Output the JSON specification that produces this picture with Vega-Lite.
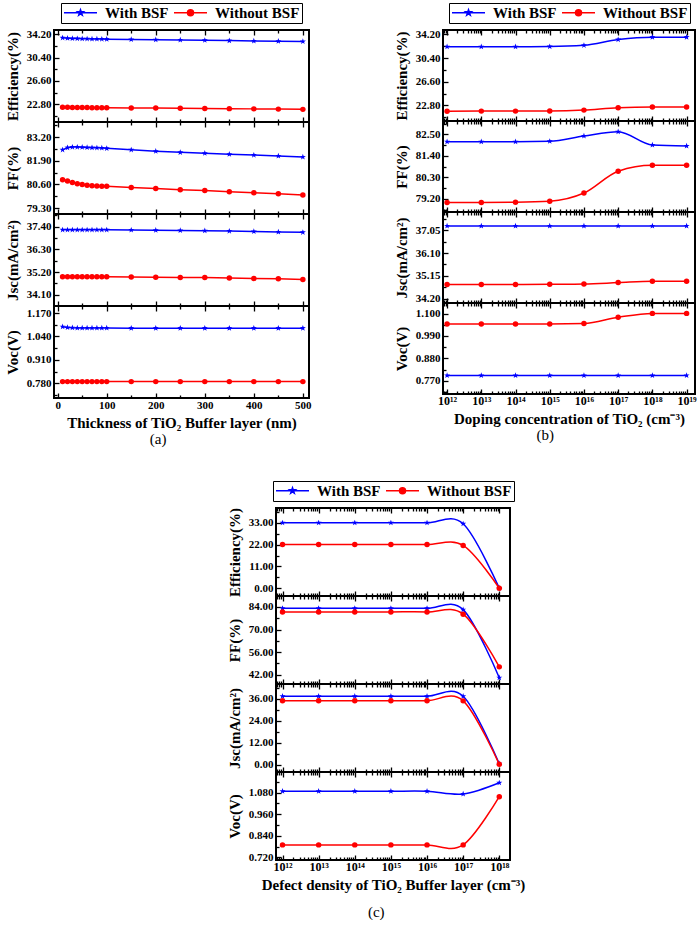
{
"$schema": "https://vega.github.io/schema/vega-lite/v6.json",
"padding": {"left": 4, "top": 1, "right": 0, "bottom": 0},
"datasets": {
"a": [
{"m":"eff","x":10,"With BSF":33.62,"Without BSF":22.30},{"m":"eff","x":20,"With BSF":33.57,"Without BSF":22.29},{"m":"eff","x":30,"With BSF":33.53,"Without BSF":22.28},{"m":"eff","x":40,"With BSF":33.50,"Without BSF":22.27},{"m":"eff","x":50,"With BSF":33.48,"Without BSF":22.26},{"m":"eff","x":60,"With BSF":33.46,"Without BSF":22.25},{"m":"eff","x":70,"With BSF":33.44,"Without BSF":22.24},{"m":"eff","x":80,"With BSF":33.43,"Without BSF":22.24},{"m":"eff","x":90,"With BSF":33.42,"Without BSF":22.23},{"m":"eff","x":100,"With BSF":33.41,"Without BSF":22.23},{"m":"eff","x":150,"With BSF":33.36,"Without BSF":22.20},{"m":"eff","x":200,"With BSF":33.32,"Without BSF":22.17},{"m":"eff","x":250,"With BSF":33.28,"Without BSF":22.14},{"m":"eff","x":300,"With BSF":33.22,"Without BSF":22.11},{"m":"eff","x":350,"With BSF":33.17,"Without BSF":22.08},{"m":"eff","x":400,"With BSF":33.12,"Without BSF":22.04},{"m":"eff","x":450,"With BSF":33.07,"Without BSF":22.00},{"m":"eff","x":500,"With BSF":33.02,"Without BSF":21.96},
{"m":"ff","x":10,"With BSF":82.50,"Without BSF":80.85},{"m":"ff","x":20,"With BSF":82.62,"Without BSF":80.78},{"m":"ff","x":30,"With BSF":82.65,"Without BSF":80.70},{"m":"ff","x":40,"With BSF":82.65,"Without BSF":80.63},{"m":"ff","x":50,"With BSF":82.64,"Without BSF":80.59},{"m":"ff","x":60,"With BSF":82.63,"Without BSF":80.55},{"m":"ff","x":70,"With BSF":82.62,"Without BSF":80.53},{"m":"ff","x":80,"With BSF":82.61,"Without BSF":80.51},{"m":"ff","x":90,"With BSF":82.60,"Without BSF":80.50},{"m":"ff","x":100,"With BSF":82.58,"Without BSF":80.49},{"m":"ff","x":150,"With BSF":82.50,"Without BSF":80.43},{"m":"ff","x":200,"With BSF":82.42,"Without BSF":80.37},{"m":"ff","x":250,"With BSF":82.36,"Without BSF":80.31},{"m":"ff","x":300,"With BSF":82.31,"Without BSF":80.26},{"m":"ff","x":350,"With BSF":82.26,"Without BSF":80.20},{"m":"ff","x":400,"With BSF":82.21,"Without BSF":80.14},{"m":"ff","x":450,"With BSF":82.16,"Without BSF":80.08},{"m":"ff","x":500,"With BSF":82.11,"Without BSF":80.01},
{"m":"jsc","x":10,"With BSF":37.25,"Without BSF":34.97},{"m":"jsc","x":20,"With BSF":37.25,"Without BSF":34.97},{"m":"jsc","x":30,"With BSF":37.25,"Without BSF":34.97},{"m":"jsc","x":40,"With BSF":37.25,"Without BSF":34.97},{"m":"jsc","x":50,"With BSF":37.25,"Without BSF":34.97},{"m":"jsc","x":60,"With BSF":37.25,"Without BSF":34.97},{"m":"jsc","x":70,"With BSF":37.25,"Without BSF":34.97},{"m":"jsc","x":80,"With BSF":37.25,"Without BSF":34.97},{"m":"jsc","x":90,"With BSF":37.25,"Without BSF":34.97},{"m":"jsc","x":100,"With BSF":37.25,"Without BSF":34.97},{"m":"jsc","x":150,"With BSF":37.24,"Without BSF":34.96},{"m":"jsc","x":200,"With BSF":37.23,"Without BSF":34.95},{"m":"jsc","x":250,"With BSF":37.22,"Without BSF":34.94},{"m":"jsc","x":300,"With BSF":37.21,"Without BSF":34.93},{"m":"jsc","x":350,"With BSF":37.19,"Without BSF":34.91},{"m":"jsc","x":400,"With BSF":37.17,"Without BSF":34.89},{"m":"jsc","x":450,"With BSF":37.15,"Without BSF":34.87},{"m":"jsc","x":500,"With BSF":37.13,"Without BSF":34.84},
{"m":"voc","x":10,"With BSF":1.094,"Without BSF":0.789},{"m":"voc","x":20,"With BSF":1.090,"Without BSF":0.789},{"m":"voc","x":30,"With BSF":1.088,"Without BSF":0.789},{"m":"voc","x":40,"With BSF":1.087,"Without BSF":0.789},{"m":"voc","x":50,"With BSF":1.087,"Without BSF":0.789},{"m":"voc","x":60,"With BSF":1.087,"Without BSF":0.789},{"m":"voc","x":70,"With BSF":1.087,"Without BSF":0.789},{"m":"voc","x":80,"With BSF":1.087,"Without BSF":0.789},{"m":"voc","x":90,"With BSF":1.087,"Without BSF":0.789},{"m":"voc","x":100,"With BSF":1.087,"Without BSF":0.789},{"m":"voc","x":150,"With BSF":1.086,"Without BSF":0.789},{"m":"voc","x":200,"With BSF":1.086,"Without BSF":0.789},{"m":"voc","x":250,"With BSF":1.086,"Without BSF":0.789},{"m":"voc","x":300,"With BSF":1.086,"Without BSF":0.789},{"m":"voc","x":350,"With BSF":1.086,"Without BSF":0.789},{"m":"voc","x":400,"With BSF":1.086,"Without BSF":0.789},{"m":"voc","x":450,"With BSF":1.086,"Without BSF":0.789},{"m":"voc","x":500,"With BSF":1.086,"Without BSF":0.789}
],
"b": [
{"m":"eff","x":1e12,"With BSF":32.23,"Without BSF":21.86},{"m":"eff","x":1e13,"With BSF":32.23,"Without BSF":21.87},{"m":"eff","x":1e14,"With BSF":32.23,"Without BSF":21.87},{"m":"eff","x":1e15,"With BSF":32.25,"Without BSF":21.88},{"m":"eff","x":1e16,"With BSF":32.45,"Without BSF":22.03},{"m":"eff","x":1e17,"With BSF":33.38,"Without BSF":22.42},{"m":"eff","x":1e18,"With BSF":33.77,"Without BSF":22.52},{"m":"eff","x":1e19,"With BSF":33.77,"Without BSF":22.52},
{"m":"ff","x":1e12,"With BSF":82.13,"Without BSF":79.02},{"m":"ff","x":1e13,"With BSF":82.13,"Without BSF":79.02},{"m":"ff","x":1e14,"With BSF":82.13,"Without BSF":79.03},{"m":"ff","x":1e15,"With BSF":82.15,"Without BSF":79.08},{"m":"ff","x":1e16,"With BSF":82.42,"Without BSF":79.50},{"m":"ff","x":1e17,"With BSF":82.64,"Without BSF":80.62},{"m":"ff","x":1e18,"With BSF":81.96,"Without BSF":80.92},{"m":"ff","x":1e19,"With BSF":81.91,"Without BSF":80.92},
{"m":"jsc","x":1e12,"With BSF":37.23,"Without BSF":34.79},{"m":"jsc","x":1e13,"With BSF":37.23,"Without BSF":34.79},{"m":"jsc","x":1e14,"With BSF":37.23,"Without BSF":34.79},{"m":"jsc","x":1e15,"With BSF":37.23,"Without BSF":34.80},{"m":"jsc","x":1e16,"With BSF":37.23,"Without BSF":34.81},{"m":"jsc","x":1e17,"With BSF":37.23,"Without BSF":34.87},{"m":"jsc","x":1e18,"With BSF":37.23,"Without BSF":34.93},{"m":"jsc","x":1e19,"With BSF":37.23,"Without BSF":34.93},
{"m":"voc","x":1e12,"With BSF":0.796,"Without BSF":1.049},{"m":"voc","x":1e13,"With BSF":0.796,"Without BSF":1.049},{"m":"voc","x":1e14,"With BSF":0.796,"Without BSF":1.049},{"m":"voc","x":1e15,"With BSF":0.796,"Without BSF":1.049},{"m":"voc","x":1e16,"With BSF":0.796,"Without BSF":1.051},{"m":"voc","x":1e17,"With BSF":0.796,"Without BSF":1.082},{"m":"voc","x":1e18,"With BSF":0.796,"Without BSF":1.101},{"m":"voc","x":1e19,"With BSF":0.796,"Without BSF":1.101}
],
"c": [
{"m":"eff","x":1e12,"With BSF":33.0,"Without BSF":22.1},{"m":"eff","x":1e13,"With BSF":33.0,"Without BSF":22.1},{"m":"eff","x":1e14,"With BSF":33.0,"Without BSF":22.1},{"m":"eff","x":1e15,"With BSF":33.0,"Without BSF":22.1},{"m":"eff","x":1e16,"With BSF":33.0,"Without BSF":22.1},{"m":"eff","x":1e17,"With BSF":32.5,"Without BSF":21.6},{"m":"eff","x":1e18,"With BSF":0.1,"Without BSF":0.05},
{"m":"ff","x":1e12,"With BSF":83.1,"Without BSF":80.9},{"m":"ff","x":1e13,"With BSF":83.1,"Without BSF":80.9},{"m":"ff","x":1e14,"With BSF":83.1,"Without BSF":80.9},{"m":"ff","x":1e15,"With BSF":83.1,"Without BSF":80.9},{"m":"ff","x":1e16,"With BSF":83.1,"Without BSF":80.9},{"m":"ff","x":1e17,"With BSF":82.3,"Without BSF":79.5},{"m":"ff","x":1e18,"With BSF":40.2,"Without BSF":46.9},
{"m":"jsc","x":1e12,"With BSF":37.3,"Without BSF":34.9},{"m":"jsc","x":1e13,"With BSF":37.3,"Without BSF":34.9},{"m":"jsc","x":1e14,"With BSF":37.3,"Without BSF":34.9},{"m":"jsc","x":1e15,"With BSF":37.3,"Without BSF":34.9},{"m":"jsc","x":1e16,"With BSF":37.3,"Without BSF":34.9},{"m":"jsc","x":1e17,"With BSF":37.3,"Without BSF":34.8},{"m":"jsc","x":1e18,"With BSF":0.5,"Without BSF":0.2},
{"m":"voc","x":1e12,"With BSF":1.088,"Without BSF":0.79},{"m":"voc","x":1e13,"With BSF":1.088,"Without BSF":0.79},{"m":"voc","x":1e14,"With BSF":1.088,"Without BSF":0.79},{"m":"voc","x":1e15,"With BSF":1.088,"Without BSF":0.79},{"m":"voc","x":1e16,"With BSF":1.088,"Without BSF":0.79},{"m":"voc","x":1e17,"With BSF":1.073,"Without BSF":0.79},{"m":"voc","x":1e18,"With BSF":1.135,"Without BSF":1.058}
]
},
"vconcat": [
{
"hconcat": [
{
"vconcat": [
{"width":255,"height":92,"data":{"name":"a"},"transform":[{"filter":"datum.m=='eff'"},{"fold":["With BSF","Without BSF"],"as":["s","y"]}],
"encoding":{"y":{"field":"y","type":"quantitative","scale":{"domain":[19.9,34.9],"zero":false,"nice":false},"axis":{"title":"Efficiency(%)","values":[20.9,22.8,24.7,26.6,28.5,30.4,32.3,34.2],"labelExpr":"abs((datum.value-22.8)/3.8-round((datum.value-22.8)/3.8))<0.01 ? format(datum.value,'.2f') : ''","tickSize":{"condition":{"test":"abs((datum.value-22.8)/3.8-round((datum.value-22.8)/3.8))<0.01","value":-5},"value":-3}}},
"color":{"field":"s","type":"nominal","scale":{"domain":["With BSF","Without BSF"],"range":["#0000ff","#ff0000"]},"legend":{"title":null,"orient":"top","direction":"horizontal","strokeColor":"black","padding":2,"offset":6,"labelFont":"Liberation Serif","labelFontSize":15,"labelFontWeight":"bold","labelColor":"black","symbolSize":36,"symbolStrokeWidth":1.5,"symbolOffset":10,"labelOffset":17,"columnPadding":2,"encode":{"symbols":{"update":{"shape":{"signal":"datum.value=='With BSF' ? 'M-5.5,0H5.5M0,-1L0.235,-0.324L0.951,-0.309L0.38,0.124L0.588,0.809L0,0.4L-0.588,0.809L-0.38,0.124L-0.951,-0.309L-0.235,-0.324Z' : 'M-5.5,0H5.5M-1,0A1,1 0 1,0 1,0A1,1 0 1,0 -1,0Z'"},"fill":{"signal":"datum.value=='With BSF' ? '#0000ff' : '#ff0000'"},"stroke":{"signal":"datum.value=='With BSF' ? '#0000ff' : '#ff0000'"},"opacity":{"value":1}}}}}}},
"layer":[
{"mark":{"type":"line","strokeWidth":1.5},"encoding":{"x":{"field":"x","type":"quantitative","scale":{"domain":[-7.5,512.5],"zero":false,"nice":false},"axis":{"values":[0,50,100,150,200,250,300,350,400,450,500],"labels":false,"title":null,"tickSize":{"condition":{"test":"datum.value%100==0","value":-5},"value":-3}}}}},
{"mark":{"type":"point","filled":true,"opacity":1},"encoding":{"x":{"field":"x","type":"quantitative","scale":{"domain":[-7.5,512.5],"zero":false,"nice":false},"axis":{"orient":"top","values":[0,50,100,150,200,250,300,350,400,450,500],"labels":false,"title":null,"tickSize":{"condition":{"test":"datum.value%100==0","value":-5},"value":-3}}},
"shape":{"field":"s","type":"nominal","scale":{"domain":["With BSF","Without BSF"],"range":["M0,-1L0.235,-0.324L0.951,-0.309L0.38,0.124L0.588,0.809L0,0.4L-0.588,0.809L-0.38,0.124L-0.951,-0.309L-0.235,-0.324Z","circle"]},"legend":null},
"size":{"field":"s","type":"nominal","scale":{"domain":["With BSF","Without BSF"],"range":[40,30]},"legend":null}}}
],"resolve":{"axis":{"x":"independent"}}},
{"width":255,"height":92,"data":{"name":"a"},"transform":[{"filter":"datum.m=='ff'"},{"fold":["With BSF","Without BSF"],"as":["s","y"]}],
"encoding":{"y":{"field":"y","type":"quantitative","scale":{"domain":[78.97,84.03],"zero":false,"nice":false},"axis":{"title":"FF(%)","values":[79.3,79.95,80.6,81.25,81.9,82.55,83.2,83.85],"labelExpr":"abs((datum.value-79.3)/1.3-round((datum.value-79.3)/1.3))<0.01 ? format(datum.value,'.2f') : ''","tickSize":{"condition":{"test":"abs((datum.value-79.3)/1.3-round((datum.value-79.3)/1.3))<0.01","value":-5},"value":-3}}},
"color":{"field":"s","type":"nominal","scale":{"domain":["With BSF","Without BSF"],"range":["#0000ff","#ff0000"]},"legend":null}},
"layer":[
{"mark":{"type":"line","strokeWidth":1.5},"encoding":{"x":{"field":"x","type":"quantitative","scale":{"domain":[-7.5,512.5],"zero":false,"nice":false},"axis":{"values":[0,50,100,150,200,250,300,350,400,450,500],"labels":false,"title":null,"tickSize":{"condition":{"test":"datum.value%100==0","value":-5},"value":-3}}}}},
{"mark":{"type":"point","filled":true,"opacity":1},"encoding":{"x":{"field":"x","type":"quantitative","scale":{"domain":[-7.5,512.5],"zero":false,"nice":false},"axis":{"orient":"top","values":[0,50,100,150,200,250,300,350,400,450,500],"labels":false,"title":null,"tickSize":{"condition":{"test":"datum.value%100==0","value":-5},"value":-3}}},
"shape":{"field":"s","type":"nominal","scale":{"domain":["With BSF","Without BSF"],"range":["M0,-1L0.235,-0.324L0.951,-0.309L0.38,0.124L0.588,0.809L0,0.4L-0.588,0.809L-0.38,0.124L-0.951,-0.309L-0.235,-0.324Z","circle"]},"legend":null},
"size":{"field":"s","type":"nominal","scale":{"domain":["With BSF","Without BSF"],"range":[40,30]},"legend":null}}}
],"resolve":{"axis":{"x":"independent"}}},
{"width":255,"height":92,"data":{"name":"a"},"transform":[{"filter":"datum.m=='jsc'"},{"fold":["With BSF","Without BSF"],"as":["s","y"]}],
"encoding":{"y":{"field":"y","type":"quantitative","scale":{"domain":[33.55,38.02],"zero":false,"nice":false},"axis":{"title":"Jsc(mA/cm²)","values":[34.1,34.65,35.2,35.75,36.3,36.85,37.4,37.95],"labelExpr":"abs((datum.value-34.1)/1.1-round((datum.value-34.1)/1.1))<0.01 ? format(datum.value,'.2f') : ''","tickSize":{"condition":{"test":"abs((datum.value-34.1)/1.1-round((datum.value-34.1)/1.1))<0.01","value":-5},"value":-3}}},
"color":{"field":"s","type":"nominal","scale":{"domain":["With BSF","Without BSF"],"range":["#0000ff","#ff0000"]},"legend":null}},
"layer":[
{"mark":{"type":"line","strokeWidth":1.5},"encoding":{"x":{"field":"x","type":"quantitative","scale":{"domain":[-7.5,512.5],"zero":false,"nice":false},"axis":{"values":[0,50,100,150,200,250,300,350,400,450,500],"labels":false,"title":null,"tickSize":{"condition":{"test":"datum.value%100==0","value":-5},"value":-3}}}}},
{"mark":{"type":"point","filled":true,"opacity":1},"encoding":{"x":{"field":"x","type":"quantitative","scale":{"domain":[-7.5,512.5],"zero":false,"nice":false},"axis":{"orient":"top","values":[0,50,100,150,200,250,300,350,400,450,500],"labels":false,"title":null,"tickSize":{"condition":{"test":"datum.value%100==0","value":-5},"value":-3}}},
"shape":{"field":"s","type":"nominal","scale":{"domain":["With BSF","Without BSF"],"range":["M0,-1L0.235,-0.324L0.951,-0.309L0.38,0.124L0.588,0.809L0,0.4L-0.588,0.809L-0.38,0.124L-0.951,-0.309L-0.235,-0.324Z","circle"]},"legend":null},
"size":{"field":"s","type":"nominal","scale":{"domain":["With BSF","Without BSF"],"range":[40,30]},"legend":null}}}
],"resolve":{"axis":{"x":"independent"}}},
{"width":255,"height":92,"data":{"name":"a"},"transform":[{"filter":"datum.m=='voc'"},{"fold":["With BSF","Without BSF"],"as":["s","y"]}],
"encoding":{"y":{"field":"y","type":"quantitative","scale":{"domain":[0.698,1.209],"zero":false,"nice":false},"axis":{"title":"Voc(V)","values":[0.715,0.78,0.845,0.91,0.975,1.04,1.105,1.17],"labelExpr":"abs((datum.value-0.78)/0.13-round((datum.value-0.78)/0.13))<0.01 ? format(datum.value,'.3f') : ''","tickSize":{"condition":{"test":"abs((datum.value-0.78)/0.13-round((datum.value-0.78)/0.13))<0.01","value":-5},"value":-3}}},
"color":{"field":"s","type":"nominal","scale":{"domain":["With BSF","Without BSF"],"range":["#0000ff","#ff0000"]},"legend":null}},
"layer":[
{"mark":{"type":"line","strokeWidth":1.5},"encoding":{"x":{"field":"x","type":"quantitative","scale":{"domain":[-7.5,512.5],"zero":false,"nice":false},"axis":{"values":[0,50,100,150,200,250,300,350,400,450,500],"labelExpr":"datum.value%100==0 ? datum.label : ''","title":"Thickness of TiO₂ Buffer layer (nm)","tickSize":{"condition":{"test":"datum.value%100==0","value":-5},"value":-3}}}}},
{"mark":{"type":"point","filled":true,"opacity":1},"encoding":{"x":{"field":"x","type":"quantitative","scale":{"domain":[-7.5,512.5],"zero":false,"nice":false},"axis":{"orient":"top","values":[0,50,100,150,200,250,300,350,400,450,500],"labels":false,"title":null,"tickSize":{"condition":{"test":"datum.value%100==0","value":-5},"value":-3}}},
"shape":{"field":"s","type":"nominal","scale":{"domain":["With BSF","Without BSF"],"range":["M0,-1L0.235,-0.324L0.951,-0.309L0.38,0.124L0.588,0.809L0,0.4L-0.588,0.809L-0.38,0.124L-0.951,-0.309L-0.235,-0.324Z","circle"]},"legend":null},
"size":{"field":"s","type":"nominal","scale":{"domain":["With BSF","Without BSF"],"range":[40,30]},"legend":null}}}
],"resolve":{"axis":{"x":"independent"}}}
],
"spacing":0,"bounds":"flush",
"title":{"text":"(a)","orient":"bottom","anchor":"middle","offset":1,"font":"Liberation Serif","fontSize":15,"fontWeight":"normal","color":"black"},
"resolve":{"scale":{"color":"independent"},"legend":{"color":"independent"}}
},
{
"vconcat": [
{"width":252,"height":91,"data":{"name":"b"},"transform":[{"filter":"datum.m=='eff'"},{"fold":["With BSF","Without BSF"],"as":["s","y"]}],
"encoding":{"y":{"field":"y","type":"quantitative","scale":{"domain":[20.28,34.92],"zero":false,"nice":false},"axis":{"title":"Efficiency(%)","values":[20.9,22.8,24.7,26.6,28.5,30.4,32.3,34.2],"labelExpr":"abs((datum.value-22.8)/3.8-round((datum.value-22.8)/3.8))<0.01 ? format(datum.value,'.2f') : ''","tickSize":{"condition":{"test":"abs((datum.value-22.8)/3.8-round((datum.value-22.8)/3.8))<0.01","value":-5},"value":-3}}},
"color":{"field":"s","type":"nominal","scale":{"domain":["With BSF","Without BSF"],"range":["#0000ff","#ff0000"]},"legend":{"title":null,"orient":"top","direction":"horizontal","strokeColor":"black","padding":2,"offset":6,"labelFont":"Liberation Serif","labelFontSize":15,"labelFontWeight":"bold","labelColor":"black","symbolSize":36,"symbolStrokeWidth":1.5,"symbolOffset":10,"labelOffset":17,"columnPadding":2,"encode":{"symbols":{"update":{"shape":{"signal":"datum.value=='With BSF' ? 'M-5.5,0H5.5M0,-1L0.235,-0.324L0.951,-0.309L0.38,0.124L0.588,0.809L0,0.4L-0.588,0.809L-0.38,0.124L-0.951,-0.309L-0.235,-0.324Z' : 'M-5.5,0H5.5M-1,0A1,1 0 1,0 1,0A1,1 0 1,0 -1,0Z'"},"fill":{"signal":"datum.value=='With BSF' ? '#0000ff' : '#ff0000'"},"stroke":{"signal":"datum.value=='With BSF' ? '#0000ff' : '#ff0000'"},"opacity":{"value":1}}}}}}},
"layer":[
{"mark":{"type":"line","strokeWidth":1.5,"interpolate":"monotone"},"encoding":{"x":{"field":"x","type":"quantitative","scale":{"type":"log","domain":[7.6e11,1.76e19],"nice":false},"axis":{"values":[8e11,9e11,1e12,2e12,3e12,4e12,5e12,6e12,7e12,8e12,9e12,1e13,2e13,3e13,4e13,5e13,6e13,7e13,8e13,9e13,1e14,2e14,3e14,4e14,5e14,6e14,7e14,8e14,9e14,1e15,2e15,3e15,4e15,5e15,6e15,7e15,8e15,9e15,1e16,2e16,3e16,4e16,5e16,6e16,7e16,8e16,9e16,1e17,2e17,3e17,4e17,5e17,6e17,7e17,8e17,9e17,1e18,2e18,3e18,4e18,5e18,6e18,7e18,8e18,9e18,1e19],"labels":false,"title":null,"tickSize":{"condition":{"test":"abs(log(datum.value)/LN10-round(log(datum.value)/LN10))<0.001","value":-5},"value":-3}}}}},
{"mark":{"type":"point","filled":true,"opacity":1},"encoding":{"x":{"field":"x","type":"quantitative","scale":{"type":"log","domain":[7.6e11,1.76e19],"nice":false},"axis":{"orient":"top","values":[8e11,9e11,1e12,2e12,3e12,4e12,5e12,6e12,7e12,8e12,9e12,1e13,2e13,3e13,4e13,5e13,6e13,7e13,8e13,9e13,1e14,2e14,3e14,4e14,5e14,6e14,7e14,8e14,9e14,1e15,2e15,3e15,4e15,5e15,6e15,7e15,8e15,9e15,1e16,2e16,3e16,4e16,5e16,6e16,7e16,8e16,9e16,1e17,2e17,3e17,4e17,5e17,6e17,7e17,8e17,9e17,1e18,2e18,3e18,4e18,5e18,6e18,7e18,8e18,9e18,1e19],"labels":false,"title":null,"tickSize":{"condition":{"test":"abs(log(datum.value)/LN10-round(log(datum.value)/LN10))<0.001","value":-5},"value":-3}}},
"shape":{"field":"s","type":"nominal","scale":{"domain":["With BSF","Without BSF"],"range":["M0,-1L0.235,-0.324L0.951,-0.309L0.38,0.124L0.588,0.809L0,0.4L-0.588,0.809L-0.38,0.124L-0.951,-0.309L-0.235,-0.324Z","circle"]},"legend":null},
"size":{"field":"s","type":"nominal","scale":{"domain":["With BSF","Without BSF"],"range":[40,30]},"legend":null}}}
],"resolve":{"axis":{"x":"independent"}}},
{"width":252,"height":91,"data":{"name":"b"},"transform":[{"filter":"datum.m=='ff'"},{"fold":["With BSF","Without BSF"],"as":["s","y"]}],
"encoding":{"y":{"field":"y","type":"quantitative","scale":{"domain":[78.53,83.19],"zero":false,"nice":false},"axis":{"title":"FF(%)","values":[78.65,79.2,79.75,80.3,80.85,81.4,81.95,82.5,83.05],"labelExpr":"abs((datum.value-79.2)/1.1-round((datum.value-79.2)/1.1))<0.01 ? format(datum.value,'.2f') : ''","tickSize":{"condition":{"test":"abs((datum.value-79.2)/1.1-round((datum.value-79.2)/1.1))<0.01","value":-5},"value":-3}}},
"color":{"field":"s","type":"nominal","scale":{"domain":["With BSF","Without BSF"],"range":["#0000ff","#ff0000"]},"legend":null}},
"layer":[
{"mark":{"type":"line","strokeWidth":1.5,"interpolate":"monotone"},"encoding":{"x":{"field":"x","type":"quantitative","scale":{"type":"log","domain":[7.6e11,1.76e19],"nice":false},"axis":{"values":[8e11,9e11,1e12,2e12,3e12,4e12,5e12,6e12,7e12,8e12,9e12,1e13,2e13,3e13,4e13,5e13,6e13,7e13,8e13,9e13,1e14,2e14,3e14,4e14,5e14,6e14,7e14,8e14,9e14,1e15,2e15,3e15,4e15,5e15,6e15,7e15,8e15,9e15,1e16,2e16,3e16,4e16,5e16,6e16,7e16,8e16,9e16,1e17,2e17,3e17,4e17,5e17,6e17,7e17,8e17,9e17,1e18,2e18,3e18,4e18,5e18,6e18,7e18,8e18,9e18,1e19],"labels":false,"title":null,"tickSize":{"condition":{"test":"abs(log(datum.value)/LN10-round(log(datum.value)/LN10))<0.001","value":-5},"value":-3}}}}},
{"mark":{"type":"point","filled":true,"opacity":1},"encoding":{"x":{"field":"x","type":"quantitative","scale":{"type":"log","domain":[7.6e11,1.76e19],"nice":false},"axis":{"orient":"top","values":[8e11,9e11,1e12,2e12,3e12,4e12,5e12,6e12,7e12,8e12,9e12,1e13,2e13,3e13,4e13,5e13,6e13,7e13,8e13,9e13,1e14,2e14,3e14,4e14,5e14,6e14,7e14,8e14,9e14,1e15,2e15,3e15,4e15,5e15,6e15,7e15,8e15,9e15,1e16,2e16,3e16,4e16,5e16,6e16,7e16,8e16,9e16,1e17,2e17,3e17,4e17,5e17,6e17,7e17,8e17,9e17,1e18,2e18,3e18,4e18,5e18,6e18,7e18,8e18,9e18,1e19],"labels":false,"title":null,"tickSize":{"condition":{"test":"abs(log(datum.value)/LN10-round(log(datum.value)/LN10))<0.001","value":-5},"value":-3}}},
"shape":{"field":"s","type":"nominal","scale":{"domain":["With BSF","Without BSF"],"range":["M0,-1L0.235,-0.324L0.951,-0.309L0.38,0.124L0.588,0.809L0,0.4L-0.588,0.809L-0.38,0.124L-0.951,-0.309L-0.235,-0.324Z","circle"]},"legend":null},
"size":{"field":"s","type":"nominal","scale":{"domain":["With BSF","Without BSF"],"range":[40,30]},"legend":null}}}
],"resolve":{"axis":{"x":"independent"}}},
{"width":252,"height":91,"data":{"name":"b"},"transform":[{"filter":"datum.m=='jsc'"},{"fold":["With BSF","Without BSF"],"as":["s","y"]}],
"encoding":{"y":{"field":"y","type":"quantitative","scale":{"domain":[34.02,37.81],"zero":false,"nice":false},"axis":{"title":"Jsc(mA/cm²)","values":[34.2,34.675,35.15,35.625,36.1,36.575,37.05,37.525],"labelExpr":"abs((datum.value-34.2)/0.95-round((datum.value-34.2)/0.95))<0.01 ? format(datum.value,'.2f') : ''","tickSize":{"condition":{"test":"abs((datum.value-34.2)/0.95-round((datum.value-34.2)/0.95))<0.01","value":-5},"value":-3}}},
"color":{"field":"s","type":"nominal","scale":{"domain":["With BSF","Without BSF"],"range":["#0000ff","#ff0000"]},"legend":null}},
"layer":[
{"mark":{"type":"line","strokeWidth":1.5,"interpolate":"monotone"},"encoding":{"x":{"field":"x","type":"quantitative","scale":{"type":"log","domain":[7.6e11,1.76e19],"nice":false},"axis":{"values":[8e11,9e11,1e12,2e12,3e12,4e12,5e12,6e12,7e12,8e12,9e12,1e13,2e13,3e13,4e13,5e13,6e13,7e13,8e13,9e13,1e14,2e14,3e14,4e14,5e14,6e14,7e14,8e14,9e14,1e15,2e15,3e15,4e15,5e15,6e15,7e15,8e15,9e15,1e16,2e16,3e16,4e16,5e16,6e16,7e16,8e16,9e16,1e17,2e17,3e17,4e17,5e17,6e17,7e17,8e17,9e17,1e18,2e18,3e18,4e18,5e18,6e18,7e18,8e18,9e18,1e19],"labels":false,"title":null,"tickSize":{"condition":{"test":"abs(log(datum.value)/LN10-round(log(datum.value)/LN10))<0.001","value":-5},"value":-3}}}}},
{"mark":{"type":"point","filled":true,"opacity":1},"encoding":{"x":{"field":"x","type":"quantitative","scale":{"type":"log","domain":[7.6e11,1.76e19],"nice":false},"axis":{"orient":"top","values":[8e11,9e11,1e12,2e12,3e12,4e12,5e12,6e12,7e12,8e12,9e12,1e13,2e13,3e13,4e13,5e13,6e13,7e13,8e13,9e13,1e14,2e14,3e14,4e14,5e14,6e14,7e14,8e14,9e14,1e15,2e15,3e15,4e15,5e15,6e15,7e15,8e15,9e15,1e16,2e16,3e16,4e16,5e16,6e16,7e16,8e16,9e16,1e17,2e17,3e17,4e17,5e17,6e17,7e17,8e17,9e17,1e18,2e18,3e18,4e18,5e18,6e18,7e18,8e18,9e18,1e19],"labels":false,"title":null,"tickSize":{"condition":{"test":"abs(log(datum.value)/LN10-round(log(datum.value)/LN10))<0.001","value":-5},"value":-3}}},
"shape":{"field":"s","type":"nominal","scale":{"domain":["With BSF","Without BSF"],"range":["M0,-1L0.235,-0.324L0.951,-0.309L0.38,0.124L0.588,0.809L0,0.4L-0.588,0.809L-0.38,0.124L-0.951,-0.309L-0.235,-0.324Z","circle"]},"legend":null},
"size":{"field":"s","type":"nominal","scale":{"domain":["With BSF","Without BSF"],"range":[40,30]},"legend":null}}}
],"resolve":{"axis":{"x":"independent"}}},
{"width":252,"height":91,"data":{"name":"b"},"transform":[{"filter":"datum.m=='voc'"},{"fold":["With BSF","Without BSF"],"as":["s","y"]}],
"encoding":{"y":{"field":"y","type":"quantitative","scale":{"domain":[0.705,1.152],"zero":false,"nice":false},"axis":{"title":"Voc(V)","values":[0.715,0.77,0.825,0.88,0.935,0.99,1.045,1.1],"labelExpr":"abs((datum.value-0.77)/0.11-round((datum.value-0.77)/0.11))<0.01 ? format(datum.value,'.3f') : ''","tickSize":{"condition":{"test":"abs((datum.value-0.77)/0.11-round((datum.value-0.77)/0.11))<0.01","value":-5},"value":-3}}},
"color":{"field":"s","type":"nominal","scale":{"domain":["With BSF","Without BSF"],"range":["#0000ff","#ff0000"]},"legend":null}},
"layer":[
{"mark":{"type":"line","strokeWidth":1.5,"interpolate":"monotone"},"encoding":{"x":{"field":"x","type":"quantitative","scale":{"type":"log","domain":[7.6e11,1.76e19],"nice":false},"axis":{"values":[8e11,9e11,1e12,2e12,3e12,4e12,5e12,6e12,7e12,8e12,9e12,1e13,2e13,3e13,4e13,5e13,6e13,7e13,8e13,9e13,1e14,2e14,3e14,4e14,5e14,6e14,7e14,8e14,9e14,1e15,2e15,3e15,4e15,5e15,6e15,7e15,8e15,9e15,1e16,2e16,3e16,4e16,5e16,6e16,7e16,8e16,9e16,1e17,2e17,3e17,4e17,5e17,6e17,7e17,8e17,9e17,1e18,2e18,3e18,4e18,5e18,6e18,7e18,8e18,9e18,1e19],"labelFontSize":12,"labelExpr":"abs(log(datum.value)/LN10-round(log(datum.value)/LN10))<0.001 ? '10¹' + substring('⁰¹²³⁴⁵⁶⁷⁸⁹', round(log(datum.value)/LN10)-10, round(log(datum.value)/LN10)-9) : ''","title":"Doping concentration of TiO₂  (cm⁻³)","tickSize":{"condition":{"test":"abs(log(datum.value)/LN10-round(log(datum.value)/LN10))<0.001","value":-5},"value":-3}}}}},
{"mark":{"type":"point","filled":true,"opacity":1},"encoding":{"x":{"field":"x","type":"quantitative","scale":{"type":"log","domain":[7.6e11,1.76e19],"nice":false},"axis":{"orient":"top","values":[8e11,9e11,1e12,2e12,3e12,4e12,5e12,6e12,7e12,8e12,9e12,1e13,2e13,3e13,4e13,5e13,6e13,7e13,8e13,9e13,1e14,2e14,3e14,4e14,5e14,6e14,7e14,8e14,9e14,1e15,2e15,3e15,4e15,5e15,6e15,7e15,8e15,9e15,1e16,2e16,3e16,4e16,5e16,6e16,7e16,8e16,9e16,1e17,2e17,3e17,4e17,5e17,6e17,7e17,8e17,9e17,1e18,2e18,3e18,4e18,5e18,6e18,7e18,8e18,9e18,1e19],"labels":false,"title":null,"tickSize":{"condition":{"test":"abs(log(datum.value)/LN10-round(log(datum.value)/LN10))<0.001","value":-5},"value":-3}}},
"shape":{"field":"s","type":"nominal","scale":{"domain":["With BSF","Without BSF"],"range":["M0,-1L0.235,-0.324L0.951,-0.309L0.38,0.124L0.588,0.809L0,0.4L-0.588,0.809L-0.38,0.124L-0.951,-0.309L-0.235,-0.324Z","circle"]},"legend":null},
"size":{"field":"s","type":"nominal","scale":{"domain":["With BSF","Without BSF"],"range":[40,30]},"legend":null}}}
],"resolve":{"axis":{"x":"independent"}}}
],
"spacing":0,"bounds":"flush",
"title":{"text":"(b)","orient":"bottom","anchor":"middle","offset":1,"font":"Liberation Serif","fontSize":15,"fontWeight":"normal","color":"black"},
"resolve":{"scale":{"color":"independent"},"legend":{"color":"independent"}}
}
],
"spacing": 80,
"resolve":{"scale":{"color":"independent"},"legend":{"color":"independent"}}
},
{
"hconcat": [
{"width":172,"height":10,"data":{"values":[]},"mark":"point","view":{"stroke":null}},
{
"vconcat": [
{"width":234,"height":88,"data":{"name":"c"},"transform":[{"filter":"datum.m=='eff'"},{"fold":["With BSF","Without BSF"],"as":["s","y"]}],
"encoding":{"y":{"field":"y","type":"quantitative","scale":{"domain":[-3.86,40.46],"zero":false,"nice":false},"axis":{"title":"Efficiency(%)","values":[0,5.5,11,16.5,22,27.5,33,38.5],"labelExpr":"abs(datum.value/11-round(datum.value/11))<0.01 ? format(datum.value,'.2f') : ''","tickSize":{"condition":{"test":"abs(datum.value/11-round(datum.value/11))<0.01","value":-5},"value":-3}}},
"color":{"field":"s","type":"nominal","scale":{"domain":["With BSF","Without BSF"],"range":["#0000ff","#ff0000"]},"legend":{"title":null,"orient":"top","direction":"horizontal","strokeColor":"black","padding":2,"offset":6,"labelFont":"Liberation Serif","labelFontSize":15,"labelFontWeight":"bold","labelColor":"black","symbolSize":36,"symbolStrokeWidth":1.5,"symbolOffset":10,"labelOffset":17,"columnPadding":2,"encode":{"symbols":{"update":{"shape":{"signal":"datum.value=='With BSF' ? 'M-5.5,0H5.5M0,-1L0.235,-0.324L0.951,-0.309L0.38,0.124L0.588,0.809L0,0.4L-0.588,0.809L-0.38,0.124L-0.951,-0.309L-0.235,-0.324Z' : 'M-5.5,0H5.5M-1,0A1,1 0 1,0 1,0A1,1 0 1,0 -1,0Z'"},"fill":{"signal":"datum.value=='With BSF' ? '#0000ff' : '#ff0000'"},"stroke":{"signal":"datum.value=='With BSF' ? '#0000ff' : '#ff0000'"},"opacity":{"value":1}}}}}}},
"layer":[
{"mark":{"type":"line","strokeWidth":1.5,"interpolate":"cardinal"},"encoding":{"x":{"field":"x","type":"quantitative","scale":{"type":"log","domain":[6.6e11,1.98e18],"nice":false},"axis":{"values":[7e11,8e11,9e11,1e12,2e12,3e12,4e12,5e12,6e12,7e12,8e12,9e12,1e13,2e13,3e13,4e13,5e13,6e13,7e13,8e13,9e13,1e14,2e14,3e14,4e14,5e14,6e14,7e14,8e14,9e14,1e15,2e15,3e15,4e15,5e15,6e15,7e15,8e15,9e15,1e16,2e16,3e16,4e16,5e16,6e16,7e16,8e16,9e16,1e17,2e17,3e17,4e17,5e17,6e17,7e17,8e17,9e17,1e18],"labels":false,"title":null,"tickSize":{"condition":{"test":"abs(log(datum.value)/LN10-round(log(datum.value)/LN10))<0.001","value":-5},"value":-3}}}}},
{"mark":{"type":"point","filled":true,"opacity":1},"encoding":{"x":{"field":"x","type":"quantitative","scale":{"type":"log","domain":[6.6e11,1.98e18],"nice":false},"axis":{"orient":"top","values":[7e11,8e11,9e11,1e12,2e12,3e12,4e12,5e12,6e12,7e12,8e12,9e12,1e13,2e13,3e13,4e13,5e13,6e13,7e13,8e13,9e13,1e14,2e14,3e14,4e14,5e14,6e14,7e14,8e14,9e14,1e15,2e15,3e15,4e15,5e15,6e15,7e15,8e15,9e15,1e16,2e16,3e16,4e16,5e16,6e16,7e16,8e16,9e16,1e17,2e17,3e17,4e17,5e17,6e17,7e17,8e17,9e17,1e18],"labels":false,"title":null,"tickSize":{"condition":{"test":"abs(log(datum.value)/LN10-round(log(datum.value)/LN10))<0.001","value":-5},"value":-3}}},
"shape":{"field":"s","type":"nominal","scale":{"domain":["With BSF","Without BSF"],"range":["M0,-1L0.235,-0.324L0.951,-0.309L0.38,0.124L0.588,0.809L0,0.4L-0.588,0.809L-0.38,0.124L-0.951,-0.309L-0.235,-0.324Z","circle"]},"legend":null},
"size":{"field":"s","type":"nominal","scale":{"domain":["With BSF","Without BSF"],"range":[40,30]},"legend":null}}}
],"resolve":{"axis":{"x":"independent"}}},
{"width":234,"height":88,"data":{"name":"c"},"transform":[{"filter":"datum.m=='ff'"},{"fold":["With BSF","Without BSF"],"as":["s","y"]}],
"encoding":{"y":{"field":"y","type":"quantitative","scale":{"domain":[36.3,90.75],"zero":false,"nice":false},"axis":{"title":"FF(%)","values":[42,49,56,63,70,77,84],"labelExpr":"abs((datum.value-42)/14-round((datum.value-42)/14))<0.01 ? format(datum.value,'.2f') : ''","tickSize":{"condition":{"test":"abs((datum.value-42)/14-round((datum.value-42)/14))<0.01","value":-5},"value":-3}}},
"color":{"field":"s","type":"nominal","scale":{"domain":["With BSF","Without BSF"],"range":["#0000ff","#ff0000"]},"legend":null}},
"layer":[
{"mark":{"type":"line","strokeWidth":1.5,"interpolate":"cardinal"},"encoding":{"x":{"field":"x","type":"quantitative","scale":{"type":"log","domain":[6.6e11,1.98e18],"nice":false},"axis":{"values":[7e11,8e11,9e11,1e12,2e12,3e12,4e12,5e12,6e12,7e12,8e12,9e12,1e13,2e13,3e13,4e13,5e13,6e13,7e13,8e13,9e13,1e14,2e14,3e14,4e14,5e14,6e14,7e14,8e14,9e14,1e15,2e15,3e15,4e15,5e15,6e15,7e15,8e15,9e15,1e16,2e16,3e16,4e16,5e16,6e16,7e16,8e16,9e16,1e17,2e17,3e17,4e17,5e17,6e17,7e17,8e17,9e17,1e18],"labels":false,"title":null,"tickSize":{"condition":{"test":"abs(log(datum.value)/LN10-round(log(datum.value)/LN10))<0.001","value":-5},"value":-3}}}}},
{"mark":{"type":"point","filled":true,"opacity":1},"encoding":{"x":{"field":"x","type":"quantitative","scale":{"type":"log","domain":[6.6e11,1.98e18],"nice":false},"axis":{"orient":"top","values":[7e11,8e11,9e11,1e12,2e12,3e12,4e12,5e12,6e12,7e12,8e12,9e12,1e13,2e13,3e13,4e13,5e13,6e13,7e13,8e13,9e13,1e14,2e14,3e14,4e14,5e14,6e14,7e14,8e14,9e14,1e15,2e15,3e15,4e15,5e15,6e15,7e15,8e15,9e15,1e16,2e16,3e16,4e16,5e16,6e16,7e16,8e16,9e16,1e17,2e17,3e17,4e17,5e17,6e17,7e17,8e17,9e17,1e18],"labels":false,"title":null,"tickSize":{"condition":{"test":"abs(log(datum.value)/LN10-round(log(datum.value)/LN10))<0.001","value":-5},"value":-3}}},
"shape":{"field":"s","type":"nominal","scale":{"domain":["With BSF","Without BSF"],"range":["M0,-1L0.235,-0.324L0.951,-0.309L0.38,0.124L0.588,0.809L0,0.4L-0.588,0.809L-0.38,0.124L-0.951,-0.309L-0.235,-0.324Z","circle"]},"legend":null},
"size":{"field":"s","type":"nominal","scale":{"domain":["With BSF","Without BSF"],"range":[40,30]},"legend":null}}}
],"resolve":{"axis":{"x":"independent"}}},
{"width":234,"height":88,"data":{"name":"c"},"transform":[{"filter":"datum.m=='jsc'"},{"fold":["With BSF","Without BSF"],"as":["s","y"]}],
"encoding":{"y":{"field":"y","type":"quantitative","scale":{"domain":[-4,44],"zero":false,"nice":false},"axis":{"title":"Jsc(mA/cm²)","values":[0,6,12,18,24,30,36,42],"labelExpr":"abs(datum.value/12-round(datum.value/12))<0.01 ? format(datum.value,'.2f') : ''","tickSize":{"condition":{"test":"abs(datum.value/12-round(datum.value/12))<0.01","value":-5},"value":-3}}},
"color":{"field":"s","type":"nominal","scale":{"domain":["With BSF","Without BSF"],"range":["#0000ff","#ff0000"]},"legend":null}},
"layer":[
{"mark":{"type":"line","strokeWidth":1.5,"interpolate":"cardinal"},"encoding":{"x":{"field":"x","type":"quantitative","scale":{"type":"log","domain":[6.6e11,1.98e18],"nice":false},"axis":{"values":[7e11,8e11,9e11,1e12,2e12,3e12,4e12,5e12,6e12,7e12,8e12,9e12,1e13,2e13,3e13,4e13,5e13,6e13,7e13,8e13,9e13,1e14,2e14,3e14,4e14,5e14,6e14,7e14,8e14,9e14,1e15,2e15,3e15,4e15,5e15,6e15,7e15,8e15,9e15,1e16,2e16,3e16,4e16,5e16,6e16,7e16,8e16,9e16,1e17,2e17,3e17,4e17,5e17,6e17,7e17,8e17,9e17,1e18],"labels":false,"title":null,"tickSize":{"condition":{"test":"abs(log(datum.value)/LN10-round(log(datum.value)/LN10))<0.001","value":-5},"value":-3}}}}},
{"mark":{"type":"point","filled":true,"opacity":1},"encoding":{"x":{"field":"x","type":"quantitative","scale":{"type":"log","domain":[6.6e11,1.98e18],"nice":false},"axis":{"orient":"top","values":[7e11,8e11,9e11,1e12,2e12,3e12,4e12,5e12,6e12,7e12,8e12,9e12,1e13,2e13,3e13,4e13,5e13,6e13,7e13,8e13,9e13,1e14,2e14,3e14,4e14,5e14,6e14,7e14,8e14,9e14,1e15,2e15,3e15,4e15,5e15,6e15,7e15,8e15,9e15,1e16,2e16,3e16,4e16,5e16,6e16,7e16,8e16,9e16,1e17,2e17,3e17,4e17,5e17,6e17,7e17,8e17,9e17,1e18],"labels":false,"title":null,"tickSize":{"condition":{"test":"abs(log(datum.value)/LN10-round(log(datum.value)/LN10))<0.001","value":-5},"value":-3}}},
"shape":{"field":"s","type":"nominal","scale":{"domain":["With BSF","Without BSF"],"range":["M0,-1L0.235,-0.324L0.951,-0.309L0.38,0.124L0.588,0.809L0,0.4L-0.588,0.809L-0.38,0.124L-0.951,-0.309L-0.235,-0.324Z","circle"]},"legend":null},
"size":{"field":"s","type":"nominal","scale":{"domain":["With BSF","Without BSF"],"range":[40,30]},"legend":null}}}
],"resolve":{"axis":{"x":"independent"}}},
{"width":234,"height":88,"data":{"name":"c"},"transform":[{"filter":"datum.m=='voc'"},{"fold":["With BSF","Without BSF"],"as":["s","y"]}],
"encoding":{"y":{"field":"y","type":"quantitative","scale":{"domain":[0.706,1.195],"zero":false,"nice":false},"axis":{"title":"Voc(V)","values":[0.72,0.78,0.84,0.9,0.96,1.02,1.08,1.14],"labelExpr":"abs((datum.value-0.72)/0.12-round((datum.value-0.72)/0.12))<0.01 ? format(datum.value,'.3f') : ''","tickSize":{"condition":{"test":"abs((datum.value-0.72)/0.12-round((datum.value-0.72)/0.12))<0.01","value":-5},"value":-3}}},
"color":{"field":"s","type":"nominal","scale":{"domain":["With BSF","Without BSF"],"range":["#0000ff","#ff0000"]},"legend":null}},
"layer":[
{"mark":{"type":"line","strokeWidth":1.5,"interpolate":"cardinal"},"encoding":{"x":{"field":"x","type":"quantitative","scale":{"type":"log","domain":[6.6e11,1.98e18],"nice":false},"axis":{"values":[7e11,8e11,9e11,1e12,2e12,3e12,4e12,5e12,6e12,7e12,8e12,9e12,1e13,2e13,3e13,4e13,5e13,6e13,7e13,8e13,9e13,1e14,2e14,3e14,4e14,5e14,6e14,7e14,8e14,9e14,1e15,2e15,3e15,4e15,5e15,6e15,7e15,8e15,9e15,1e16,2e16,3e16,4e16,5e16,6e16,7e16,8e16,9e16,1e17,2e17,3e17,4e17,5e17,6e17,7e17,8e17,9e17,1e18],"labelFontSize":12,"labelExpr":"abs(log(datum.value)/LN10-round(log(datum.value)/LN10))<0.001 ? '10¹' + substring('⁰¹²³⁴⁵⁶⁷⁸⁹', round(log(datum.value)/LN10)-10, round(log(datum.value)/LN10)-9) : ''","title":"Defect density of TiO₂ Buffer layer (cm⁻³)","tickSize":{"condition":{"test":"abs(log(datum.value)/LN10-round(log(datum.value)/LN10))<0.001","value":-5},"value":-3}}}}},
{"mark":{"type":"point","filled":true,"opacity":1},"encoding":{"x":{"field":"x","type":"quantitative","scale":{"type":"log","domain":[6.6e11,1.98e18],"nice":false},"axis":{"orient":"top","values":[7e11,8e11,9e11,1e12,2e12,3e12,4e12,5e12,6e12,7e12,8e12,9e12,1e13,2e13,3e13,4e13,5e13,6e13,7e13,8e13,9e13,1e14,2e14,3e14,4e14,5e14,6e14,7e14,8e14,9e14,1e15,2e15,3e15,4e15,5e15,6e15,7e15,8e15,9e15,1e16,2e16,3e16,4e16,5e16,6e16,7e16,8e16,9e16,1e17,2e17,3e17,4e17,5e17,6e17,7e17,8e17,9e17,1e18],"labels":false,"title":null,"tickSize":{"condition":{"test":"abs(log(datum.value)/LN10-round(log(datum.value)/LN10))<0.001","value":-5},"value":-3}}},
"shape":{"field":"s","type":"nominal","scale":{"domain":["With BSF","Without BSF"],"range":["M0,-1L0.235,-0.324L0.951,-0.309L0.38,0.124L0.588,0.809L0,0.4L-0.588,0.809L-0.38,0.124L-0.951,-0.309L-0.235,-0.324Z","circle"]},"legend":null},
"size":{"field":"s","type":"nominal","scale":{"domain":["With BSF","Without BSF"],"range":[40,30]},"legend":null}}}
],"resolve":{"axis":{"x":"independent"}}}
],
"spacing":0,"bounds":"flush",
"title":{"text":"(c)","orient":"bottom","anchor":"middle","offset":12,"font":"Liberation Serif","fontSize":15,"fontWeight":"normal","color":"black"},
"resolve":{"scale":{"color":"independent"},"legend":{"color":"independent"}}
}
],
"spacing": 0,
"resolve":{"scale":{"color":"independent"},"legend":{"color":"independent"}}
}
],
"spacing": 32,
"resolve":{"scale":{"color":"independent"},"legend":{"color":"independent"}},
"config": {
"font": "Liberation Serif",
"background": "white",
"view": {"stroke": "black", "strokeWidth": 2},
"axis": {"labelFont":"Liberation Serif","labelFontSize":11,"labelFontWeight":"bold","labelColor":"black","titleFont":"Liberation Serif","titleFontSize":15,"titleFontWeight":"bold","titleColor":"black","domain":false,"grid":false,"tickColor":"black","tickWidth":1.3,"labelPadding":8,"labelOverlap":false,"labelFlush":false,"labelBound":false},
"axisY": {"titlePadding": 6},
"axisX": {"titlePadding": 3, "labelPadding": 6},
"legend": {"layout": {"top": {"anchor": "middle"}}}
}
}
